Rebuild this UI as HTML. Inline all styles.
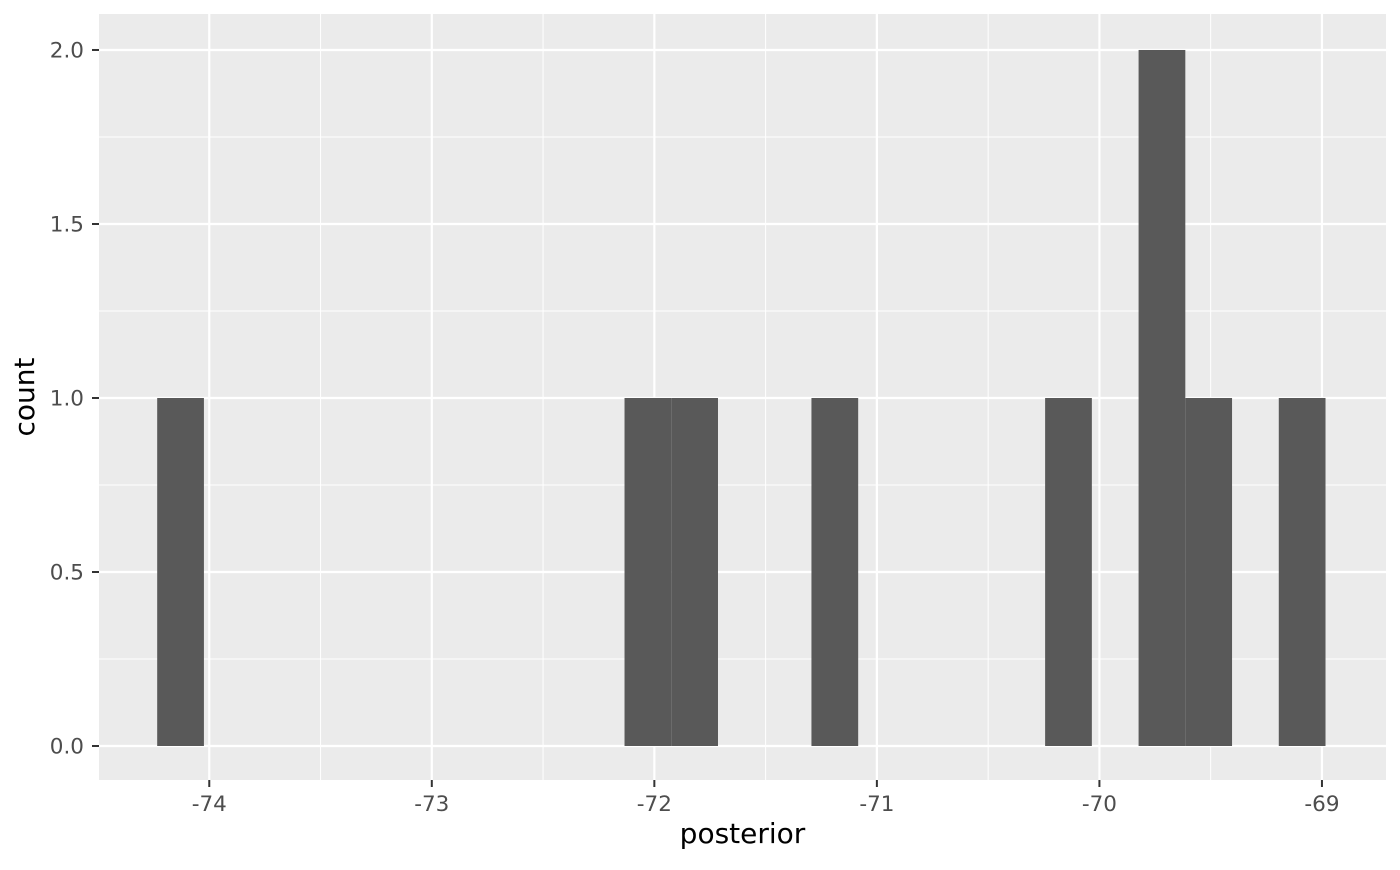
<!DOCTYPE html>
<html><head><meta charset="utf-8"><style>
body{margin:0;background:#fff;}
text{font-family:"DejaVu Sans","Liberation Sans",sans-serif;}
</style></head><body>
<svg id="chart" width="1400" height="865" xmlns="http://www.w3.org/2000/svg"></svg>
<script>
const binStart = -74.234;
const binWidth = 0.21;
const counts = [1,0,0,0,0,0,0,0,0,0,1,1,0,0,1,0,0,0,0,1,0,2,1,0,1];
const xTicks = [-74,-73,-72,-71,-70,-69];
const xTickLabels = ["-74","-73","-72","-71","-70","-69"];
const yTicks = [0,0.5,1,1.5,2];
const yTickLabels = ["0.0","0.5","1.0","1.5","2.0"];
const xDomain = [-74.4955, -68.7122];
const yDomain = [-0.0977, 2.1034];

const P = {l:99, r:1386, t:14, b:780};
const sx = v => P.l + (v - xDomain[0])/(xDomain[1]-xDomain[0])*(P.r-P.l);
const sy = v => P.b - (v - yDomain[0])/(yDomain[1]-yDomain[0])*(P.b-P.t);
const svg = document.getElementById('chart');
const NS = 'http://www.w3.org/2000/svg';
function mk(tag, attrs, parent){const e=document.createElementNS(NS,tag);for(const k in attrs)e.setAttribute(k,attrs[k]);(parent||svg).appendChild(e);return e;}

const panel = mk('rect',{x:P.l,y:P.t,width:P.r-P.l,height:P.b-P.t,fill:'#ebebeb'});



for(let i=0;i<xTicks.length-1;i++){const v=(xTicks[i]+xTicks[i+1])/2;const l=mk('line',{x1:sx(v),x2:sx(v),y1:P.t,y2:P.b,stroke:'#fff','stroke-width':1});

}
for(let i=0;i<yTicks.length-1;i++){const v=(yTicks[i]+yTicks[i+1])/2;const l=mk('line',{x1:P.l,x2:P.r,y1:sy(v),y2:sy(v),stroke:'#fff','stroke-width':1});

}
xTicks.forEach((v,i)=>{
  const g=mk('line',{x1:sx(v),x2:sx(v),y1:P.t,y2:P.b,stroke:'#fff','stroke-width':2.2});
  
  
  const t=mk('line',{x1:sx(v),x2:sx(v),y1:P.b,y2:P.b+7,stroke:'#333','stroke-width':2});
  
  
  const lb=mk('text',{x:sx(v),y:P.b+31,'text-anchor':'middle','font-size':21.5,fill:'#4d4d4d'});
  lb.textContent=xTickLabels[i];
  
  
});
yTicks.forEach((v,i)=>{
  const g=mk('line',{x1:P.l,x2:P.r,y1:sy(v),y2:sy(v),stroke:'#fff','stroke-width':2.2});
  
  
  const t=mk('line',{x1:P.l-7,x2:P.l,y1:sy(v),y2:sy(v),stroke:'#333','stroke-width':2});
  
  
  const lb=mk('text',{x:P.l-15,y:sy(v)+7.5,'text-anchor':'end','font-size':21.5,fill:'#4d4d4d'});
  lb.textContent=yTickLabels[i];
  
  
});
counts.forEach((c,i)=>{
  if(c<=0) return;
  const x0=sx(binStart+i*binWidth), x1=sx(binStart+(i+1)*binWidth);
  const r=mk('rect',{x:x0,y:sy(c),width:x1-x0,height:sy(0)-sy(c),fill:'#595959'});
  
  
});
const xt=mk('text',{x:(P.l+P.r)/2,y:843,'text-anchor':'middle','font-size':28,fill:'#000'});
xt.textContent='posterior';


const yt=mk('text',{x:0,y:0,'text-anchor':'middle','font-size':28,fill:'#000',transform:`translate(34,${(P.t+P.b)/2}) rotate(-90)`});
yt.textContent='count';


</script>
</body></html>
